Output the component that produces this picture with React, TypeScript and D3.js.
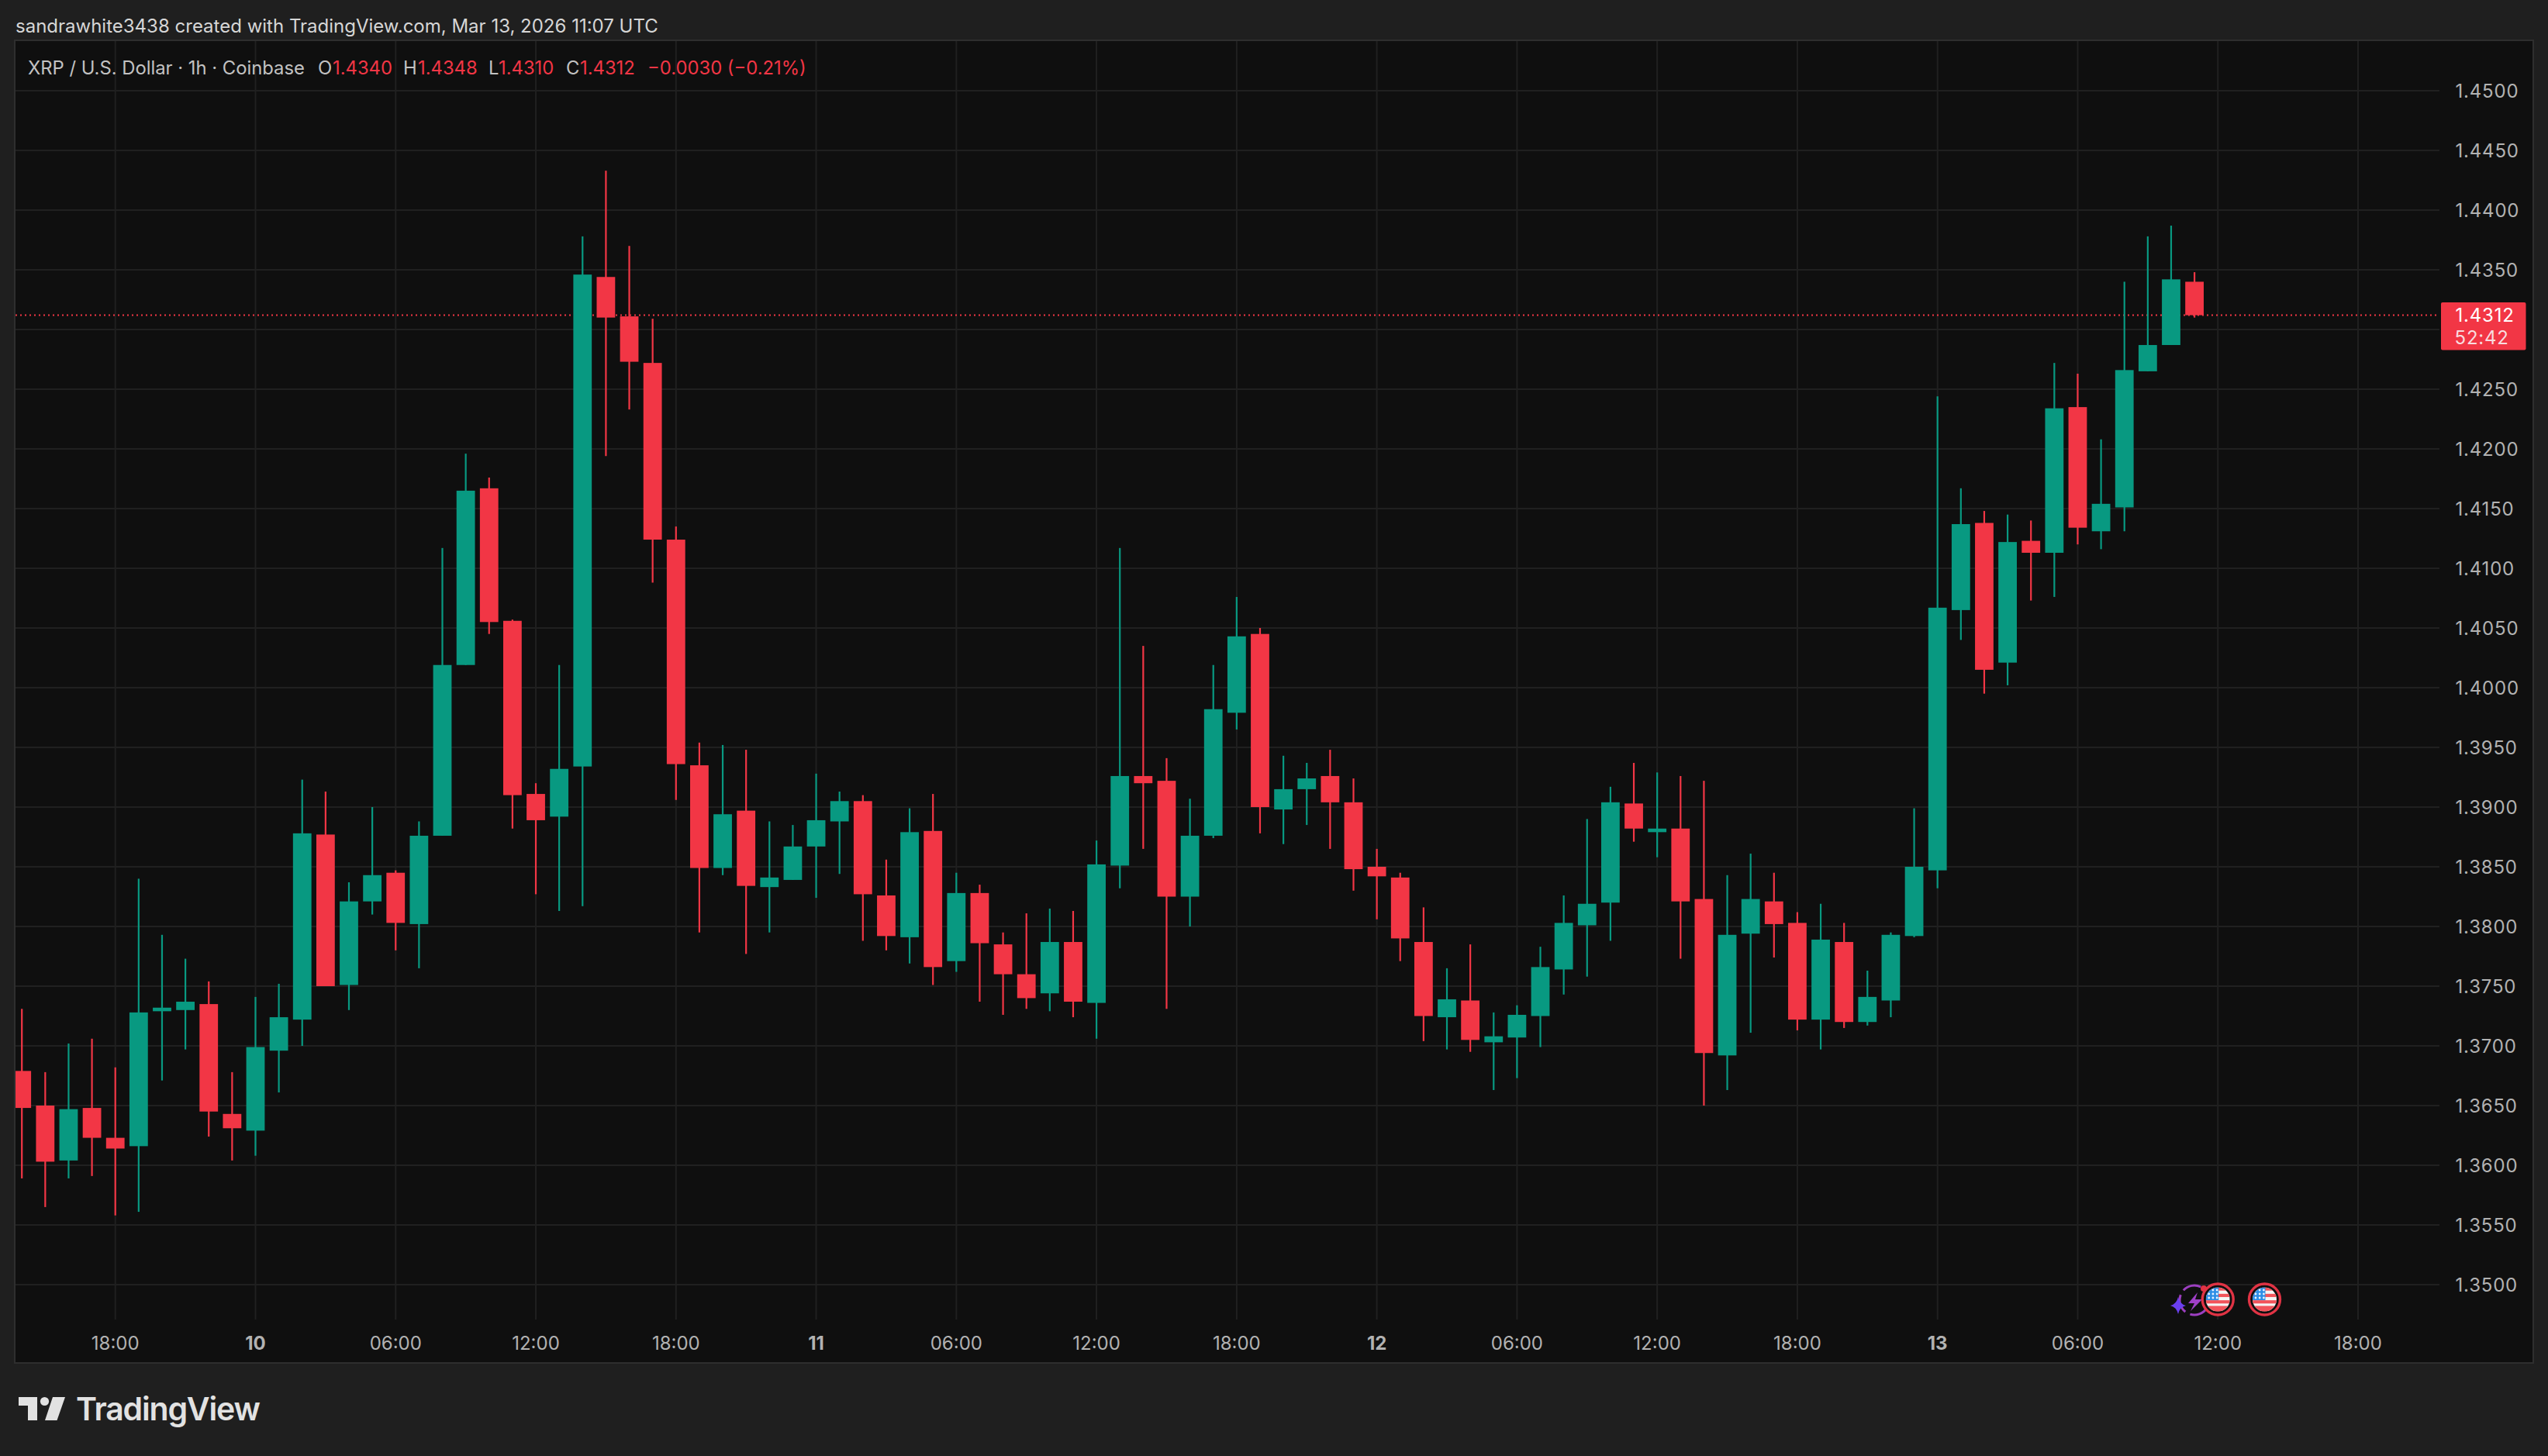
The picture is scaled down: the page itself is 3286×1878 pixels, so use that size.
import React from "react";
import * as d3 from "d3";

const opens = [1.3679,1.3650,1.3604,1.3648,1.3623,1.3616,1.3729,1.3730,1.3735,1.3643,
1.3629,1.3696,1.3722,1.3877,1.3751,1.3821,1.3845,1.3802,1.3876,1.4019,
1.4167,1.4056,1.3911,1.3892,1.3934,1.4344,1.4311,1.4272,1.4124,1.3935,
1.3849,1.3897,1.3833,1.3839,1.3867,1.3888,1.3905,1.3826,1.3791,1.3880,
1.3771,1.3828,1.3785,1.3760,1.3744,1.3787,1.3736,1.3851,1.3926,1.3922,
1.3825,1.3876,1.3979,1.4045,1.3898,1.3915,1.3926,1.3904,1.3850,1.3841,
1.3787,1.3724,1.3738,1.3703,1.3707,1.3725,1.3764,1.3801,1.3820,1.3903,
1.3879,1.3882,1.3823,1.3692,1.3794,1.3821,1.3803,1.3722,1.3787,1.3720,
1.3738,1.3792,1.3847,1.4065,1.4138,1.4021,1.4123,1.4113,1.4235,1.4131,
1.4151,1.4265,1.4287,1.4340];
const closes = [1.3648,1.3603,1.3647,1.3623,1.3614,1.3728,1.3732,1.3737,1.3645,1.3631,
1.3699,1.3724,1.3878,1.3750,1.3821,1.3843,1.3803,1.3876,1.4019,1.4165,
1.4055,1.3910,1.3889,1.3932,1.4346,1.4310,1.4273,1.4124,1.3936,1.3849,
1.3894,1.3834,1.3841,1.3867,1.3889,1.3905,1.3827,1.3792,1.3879,1.3766,
1.3828,1.3786,1.3760,1.3740,1.3787,1.3737,1.3852,1.3926,1.3920,1.3825,
1.3876,1.3982,1.4043,1.3900,1.3915,1.3924,1.3904,1.3848,1.3842,1.3790,
1.3725,1.3739,1.3705,1.3708,1.3726,1.3766,1.3803,1.3819,1.3904,1.3882,
1.3882,1.3821,1.3694,1.3793,1.3823,1.3802,1.3722,1.3789,1.3720,1.3741,
1.3793,1.3850,1.4067,1.4137,1.4015,1.4122,1.4113,1.4234,1.4134,1.4154,
1.4266,1.4287,1.4342,1.4312];
const highs = [1.3731,1.3678,1.3702,1.3706,1.3682,1.3840,1.3793,1.3773,1.3754,1.3678,
1.3741,1.3752,1.3923,1.3913,1.3837,1.3900,1.3847,1.3888,1.4117,1.4196,
1.4176,1.4057,1.3920,1.4019,1.4378,1.4433,1.4370,1.4309,1.4135,1.3954,
1.3952,1.3948,1.3888,1.3885,1.3928,1.3913,1.3910,1.3856,1.3899,1.3911,
1.3845,1.3835,1.3795,1.3811,1.3815,1.3813,1.3872,1.4117,1.4035,1.3941,
1.3907,1.4019,1.4076,1.4050,1.3943,1.3937,1.3948,1.3924,1.3865,1.3845,
1.3816,1.3765,1.3785,1.3728,1.3734,1.3783,1.3826,1.3890,1.3917,1.3937,
1.3929,1.3926,1.3922,1.3843,1.3861,1.3845,1.3812,1.3819,1.3803,1.3763,
1.3795,1.3899,1.4244,1.4167,1.4148,1.4145,1.4140,1.4272,1.4263,1.4208,
1.4340,1.4378,1.4387,1.4348];
const lows = [1.3589,1.3565,1.3589,1.3591,1.3558,1.3561,1.3671,1.3697,1.3624,1.3604,
1.3608,1.3661,1.3700,1.3750,1.3730,1.3810,1.3780,1.3765,1.3876,1.4019,
1.4045,1.3882,1.3827,1.3813,1.3817,1.4194,1.4233,1.4088,1.3906,1.3795,
1.3843,1.3777,1.3795,1.3839,1.3824,1.3844,1.3788,1.3780,1.3769,1.3751,
1.3762,1.3737,1.3726,1.3731,1.3729,1.3724,1.3706,1.3832,1.3865,1.3731,
1.3800,1.3874,1.3965,1.3878,1.3869,1.3885,1.3865,1.3830,1.3806,1.3771,
1.3704,1.3697,1.3695,1.3663,1.3673,1.3699,1.3743,1.3758,1.3788,1.3871,
1.3858,1.3773,1.3650,1.3663,1.3711,1.3774,1.3713,1.3697,1.3715,1.3717,
1.3724,1.3791,1.3832,1.4040,1.3995,1.4002,1.4073,1.4076,1.4120,1.4116,
1.4131,1.4265,1.4287,1.4310];

const priceTicks = [1.35,1.355,1.36,1.365,1.37,1.375,1.38,1.385,1.39,1.395,1.4,1.405,1.41,1.415,1.42,1.425,1.43,1.435,1.44,1.445,1.45];
const hiddenPriceLabels = [1.43];
const timeTickBars = [4,10,16,22,28,34,40,46,52,58,64,70,76,82,88,94,100];
const timeTickLabels = ["18:00","10","06:00","12:00","18:00","11","06:00","12:00","18:00","12","06:00","12:00","18:00","13","06:00","12:00","18:00"];
const boldLabels = ["10","11","12","13"];
const lastPrice = 1.4312;
const countdown = "52:42";
const eventBars = [94, 96];

const W = 3286, H = 1878;
const paneL = 20, paneT = 53, paneR = 3266, paneB = 1757;
const gridR = 3146, gridB = 1702;
const BG = "#1f1f1f", PANE = "#0f0f0f", GRID = "#202020", BORDER = "#2e2e2e";
const GREEN = "#089981", RED = "#f23645", AXIS = "#b2b2b2", LEG = "#c2c2c2";
const FONT = "Inter, Roboto, sans-serif";

const x = d3.scaleLinear().domain([0, 100]).range([28.2, 3041]);
const y = d3.scaleLinear().domain([1.35, 1.45]).range([1657.0, 117.0]);
const fmt = d3.format(".4f");

const bodyW = 23.8, wickW = 2.2;

function Flag({ cx, cy, id }: { cx: number; cy: number; id: string }) {
  const r = 15.5;
  const stripes = [0, 1, 2, 3];
  return (
    <g>
      <circle cx={cx} cy={cy} r={20} fill="#0f0f0f" stroke="#e03344" strokeWidth={3.4} />
      <clipPath id={id}><circle cx={cx} cy={cy} r={r} /></clipPath>
      <g clipPath={`url(#${id})`}>
        <rect x={cx - r} y={cy - r} width={2 * r} height={2 * r} fill="#f5f5f5" />
        {stripes.map((s) => (
          <rect key={s} x={cx - r} y={cy - r + s * 2 * r * 0.268 + (s === 3 ? -1 : 0)} width={2 * r} height={2 * r * 0.134 + (s === 3 ? 8 : 0)} fill="#f2545b" />
        ))}
        <rect x={cx - r} y={cy - r} width={r + 1} height={r + 1} fill="#2f8fe6" />
        {[0, 1, 2].map((rw) => [0, 1, 2].map((c) => (
          <circle key={`${rw}-${c}`} cx={cx - r + 4 + c * 5.2} cy={cy - r + 3.5 + rw * 5} r={1.4} fill="#e8f2ff" />
        )))}
      </g>
    </g>
  );
}

export default function App() {
  const lastY = y(lastPrice);
  return (
    <svg width={W} height={H} viewBox={`0 0 ${W} ${H}`} style={{ position: "absolute", left: 0, top: 0, display: "block" }} fontFamily={FONT}>
      <defs>
        <clipPath id="pane"><rect x={paneL} y={paneT} width={paneR - paneL} height={paneB - paneT} /></clipPath>
      </defs>
      <rect width={W} height={H} fill={BG} />
      <text x={20} y={41.5} fontSize={24} fill="#d6d6d6">sandrawhite3438 created with TradingView.com, Mar 13, 2026 11:07 UTC</text>

      <rect x={paneL - 1} y={paneT - 1} width={paneR - paneL + 2} height={paneB - paneT + 2} fill={PANE} stroke={BORDER} strokeWidth={2} />

      <g stroke={GRID} strokeWidth={2}>
        {priceTicks.map((p) => <line key={p} x1={paneL} x2={gridR} y1={y(p)} y2={y(p)} />)}
        {timeTickBars.map((b) => <line key={b} x1={x(b)} x2={x(b)} y1={paneT} y2={gridB} />)}
      </g>

      <line x1={paneL} x2={gridR} y1={lastY} y2={lastY} stroke={RED} strokeWidth={2} strokeDasharray="2 4" />

      <g clipPath="url(#pane)">
        {opens.map((o, i) => {
          const c = closes[i];
          const col = c >= o ? GREEN : RED;
          const top = y(Math.max(o, c));
          const bot = y(Math.min(o, c));
          return (
            <g key={i} fill={col}>
              <rect x={x(i) - wickW / 2} y={y(highs[i])} width={wickW} height={y(lows[i]) - y(highs[i])} />
              <rect x={x(i) - bodyW / 2} y={top} width={bodyW} height={Math.max(bot - top, 2)} />
            </g>
          );
        })}
      </g>

      <g fontSize={24} fill={AXIS} letterSpacing={0.8}>
        {priceTicks.filter((p) => !hiddenPriceLabels.includes(p)).map((p) => (
          <text key={p} x={3166.5} y={y(p) + 8.5}>{fmt(p)}</text>
        ))}
      </g>
      <g fontSize={24} fill={AXIS} textAnchor="middle">
        {timeTickBars.map((b, i) => (
          <text key={b} x={x(b)} y={1740.5} fontWeight={boldLabels.includes(timeTickLabels[i]) ? 700 : 400}>{timeTickLabels[i]}</text>
        ))}
      </g>

      <rect x={3148} y={390} width={109.5} height={61.5} rx={2} fill={RED} />
      <text x={3166.5} y={lastY + 8.5} fontSize={24} fill="#ffffff" letterSpacing={0.8}>{fmt(lastPrice)}</text>
      <text x={3165.5} y={444} fontSize={24} fill="#f8dcdf" letterSpacing={0.8}>{countdown}</text>

      <g fontSize={23.8} fill={LEG}>
        <text x={36} y={95.5}>XRP / U.S. Dollar · 1h · Coinbase</text>
        <text x={410} y={95.5}>O</text>
        <text x={429} y={95.5} fill={RED}>1.4340</text>
        <text x={520} y={95.5}>H</text>
        <text x={539} y={95.5} fill={RED}>1.4348</text>
        <text x={630} y={95.5}>L</text>
        <text x={643} y={95.5} fill={RED}>1.4310</text>
        <text x={730} y={95.5}>C</text>
        <text x={748} y={95.5} fill={RED}>1.4312</text>
        <text x={835} y={95.5} fill={RED}>−0.0030 (−0.21%)</text>
      </g>

      {/* event icons */}
      <g>
        <circle cx={2830} cy={1677} r={19} fill="none" stroke="#9c3fc0" strokeWidth={3} strokeDasharray="24 7" transform="rotate(-60 2830 1677)" />
        <path d="M2834 1667 L2822 1681 L2830 1681 L2825 1691 L2840 1676 L2831 1676 Z" fill="#a040c8" />
        <path d="M2809 1673 Q2811 1682 2819 1684 Q2811 1686 2809 1695 Q2807 1686 2799 1684 Q2807 1682 2809 1673 Z" fill="#6a3ff0" />
        <Flag cx={x(eventBars[0])} cy={1676} id="flagA" />
        <circle cx={2842} cy={1662} r={4} fill="#e03344" />
        <Flag cx={x(eventBars[1])} cy={1676} id="flagB" />
      </g>

      {/* logo */}
      <g fill="#e2e2e2">
        <path d="M24 1802 H48 V1832 H36 V1813 H24 Z" />
        <circle cx={57.5} cy={1807.5} r={5.6} />
        <path d="M68 1802 H84 L73.5 1832 H58 Z" />
        <text x={98} y={1832} fontSize={41} fontWeight={600} fontFamily="Inter, Lato, sans-serif" letterSpacing={-1.2}>TradingView</text>
      </g>
    </svg>
  );
}
